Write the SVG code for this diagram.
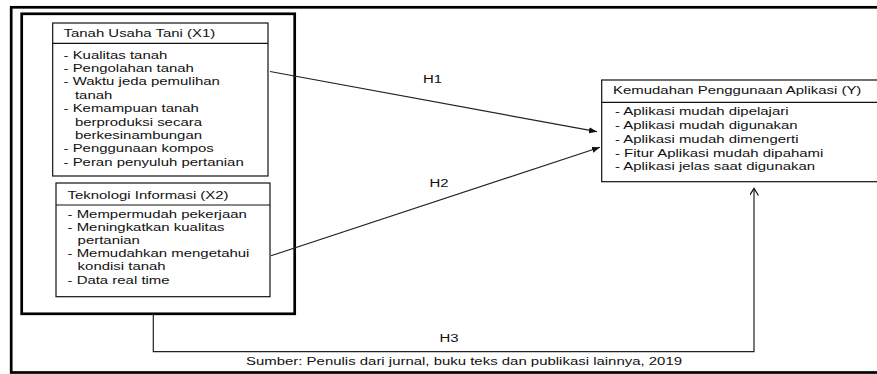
<svg xmlns="http://www.w3.org/2000/svg" width="877" height="374" viewBox="0 0 877 374">
<defs>
<style>
.t{font-family:"Liberation Sans",Arial,sans-serif;font-size:11.5px;fill:#111}
.box{fill:#fff;stroke:#111;stroke-width:1.2}
.thick{fill:none;stroke:#000;stroke-width:2.7}
.con{fill:none;stroke:#222;stroke-width:1.2}
</style>
<marker id="fill" markerUnits="userSpaceOnUse" markerWidth="9" markerHeight="7" refX="8" refY="3" orient="auto">
<path d="M0,0 L8,3 L0,6 z" fill="#111"/>
</marker>
<marker id="open" markerUnits="userSpaceOnUse" markerWidth="10" markerHeight="10" refX="7" refY="4.5" orient="auto">
<path d="M0,0 L7,4.5 L0,9" fill="none" stroke="#111" stroke-width="1.3"/>
</marker>
</defs>
<rect width="877" height="374" fill="#fff"/>
<g id="frame">
<rect class="thick" x="11.2" y="7.3" width="880" height="365.2"/>
</g>
<g id="group-x">
<rect class="thick" x="21.7" y="13.8" width="273" height="300" stroke-width="2.5"/>
</g>
<g id="connectors">
<line class="con" x1="270" y1="71.5" x2="597" y2="131.7" marker-end="url(#fill)"/>
<line class="con" x1="271" y1="255.7" x2="600" y2="147.3" marker-end="url(#fill)"/>
<polyline class="con" points="153.3,314 153.3,351.7 754,351.7 754,188.5" marker-end="url(#open)"/>
<text class="t" transform="matrix(1.3,0,0,1,432.5,82.5)" text-anchor="middle">H1</text>
<text class="t" transform="matrix(1.3,0,0,1,439,186.5)" text-anchor="middle">H2</text>
<text class="t" transform="matrix(1.3,0,0,1,449,342)" text-anchor="middle">H3</text>
</g>
<g id="x1">
<rect class="box" x="52.7" y="23" width="215.3" height="153"/>
<line class="box" x1="52.7" y1="43.3" x2="268" y2="43.3"/>
<g transform="matrix(1.3,0,0,1,63.5,0)">
<text class="t" x="0" y="37.5">Tanah Usaha Tani (X1)</text>
<text class="t" x="0" y="58.7">- Kualitas tanah</text>
<text class="t" x="0" y="72.1">- Pengolahan tanah</text>
<text class="t" x="0" y="85.5">- Waktu jeda pemulihan</text>
<text class="t" x="8.8" y="98.9">tanah</text>
<text class="t" x="0" y="112.3">- Kemampuan tanah</text>
<text class="t" x="8.8" y="125.7">berproduksi secara</text>
<text class="t" x="8.8" y="139.1">berkesinambungan</text>
<text class="t" x="0" y="152.5">- Penggunaan kompos</text>
<text class="t" x="0" y="165.9">- Peran penyuluh pertanian</text>
</g>
</g>
<g id="x2">
<rect class="box" x="56" y="183" width="214" height="113.7"/>
<line class="box" x1="56" y1="205" x2="270" y2="205"/>
<g transform="matrix(1.3,0,0,1,67.5,0)">
<text class="t" x="0" y="199.3">Teknologi Informasi (X2)</text>
<text class="t" x="0" y="217.7">- Mempermudah pekerjaan</text>
<text class="t" x="0" y="230.9">- Meningkatkan kualitas</text>
<text class="t" x="7.8" y="244.1">pertanian</text>
<text class="t" x="0" y="257.3">- Memudahkan mengetahui</text>
<text class="t" x="7.8" y="270.5">kondisi tanah</text>
<text class="t" x="0" y="283.7">- Data real time</text>
</g>
</g>
<g id="y">
<rect class="box" x="601.7" y="80" width="290" height="101.7"/>
<line class="box" x1="601.7" y1="102.3" x2="877" y2="102.3"/>
<g transform="matrix(1.3,0,0,1,613,0)">
<text class="t" x="0" y="94.5">Kemudahan Penggunaan Aplikasi (Y)</text>
<text class="t" x="1.5" y="115.5">- Aplikasi mudah dipelajari</text>
<text class="t" x="1.5" y="129.3">- Aplikasi mudah digunakan</text>
<text class="t" x="1.5" y="143">- Aplikasi mudah dimengerti</text>
<text class="t" x="1.5" y="156.8">- Fitur Aplikasi mudah dipahami</text>
<text class="t" x="1.5" y="170.5">- Aplikasi jelas saat digunakan</text>
</g>
</g>
<g id="source">
<text class="t" transform="matrix(1.3,0,0,1,246,365)" x="0" y="0">Sumber: Penulis dari jurnal, buku teks dan publikasi lainnya, 2019</text>
</g>
</svg>
